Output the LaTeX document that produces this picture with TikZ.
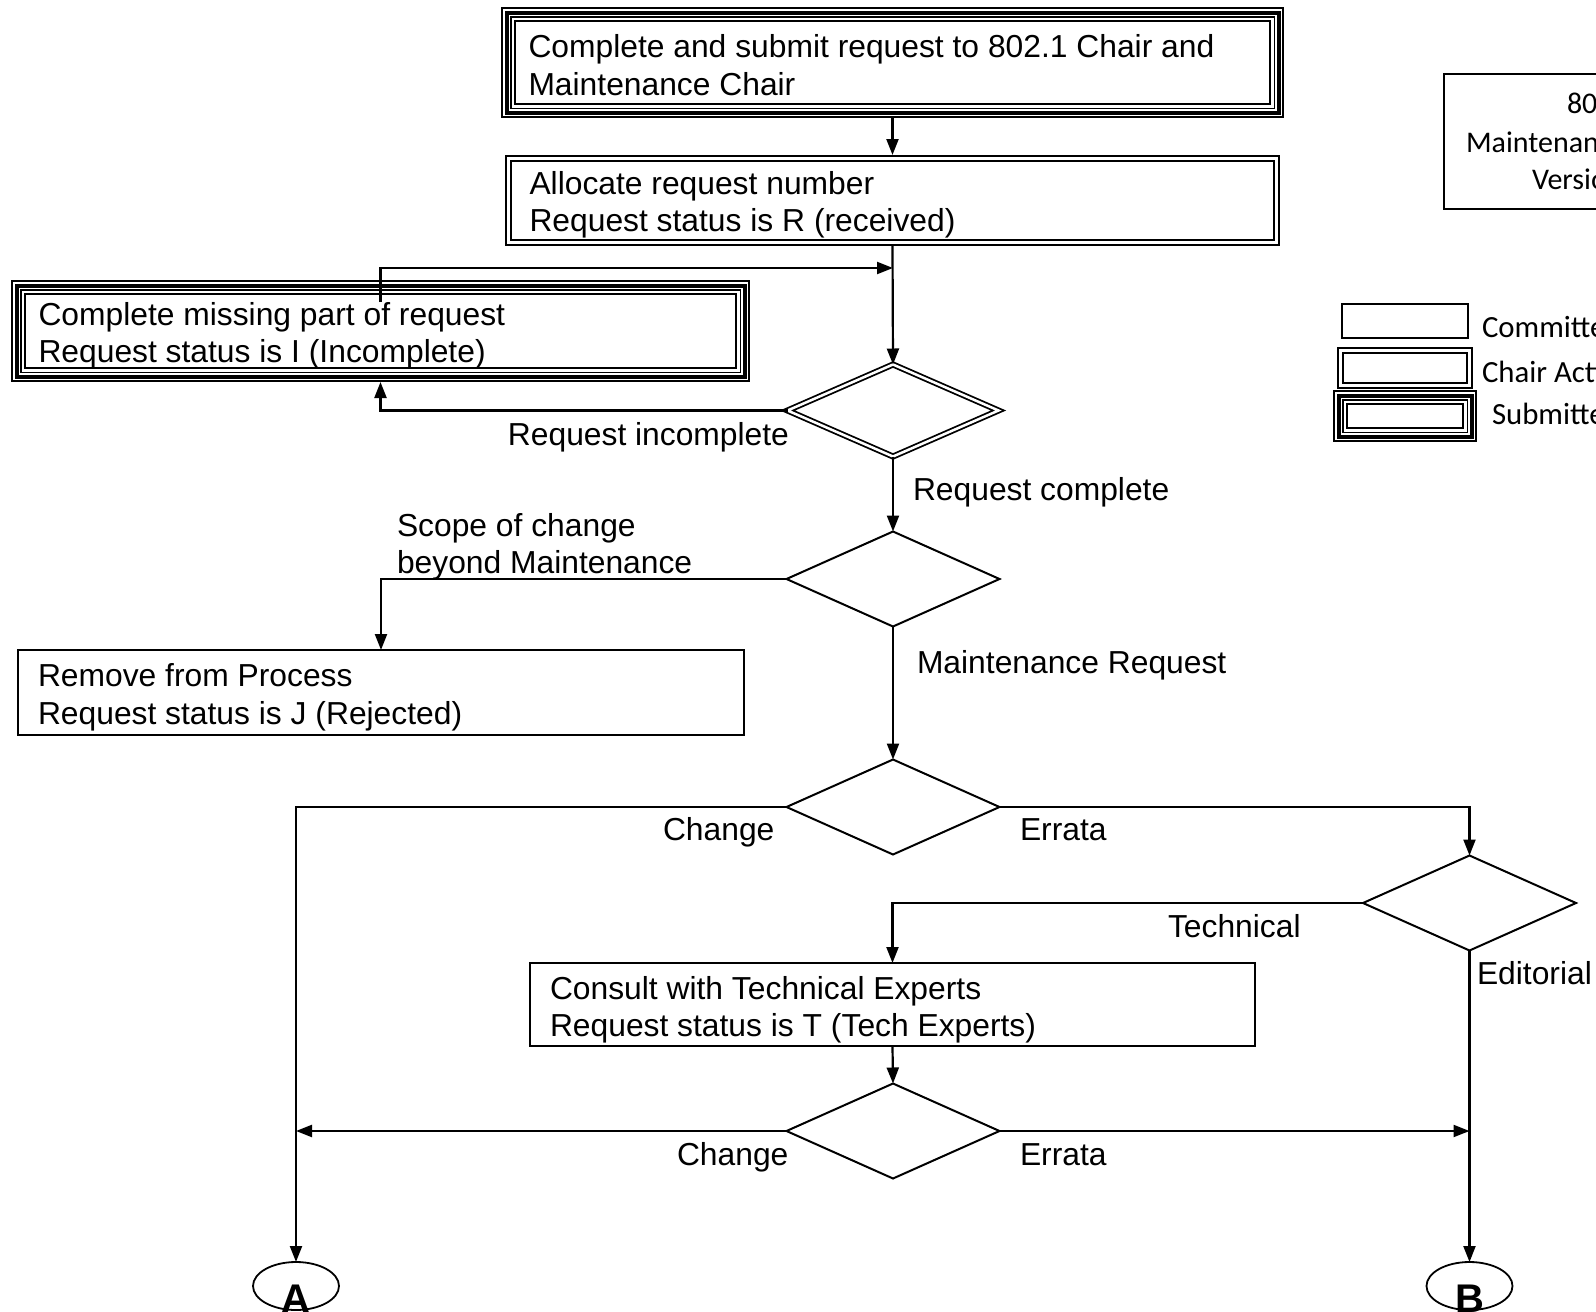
\documentclass[tikz,border=0pt]{standalone}
\usepackage{fontspec}
\setmainfont{Liberation Sans}
\newfontfamily\calib{Carlito}
\usetikzlibrary{arrows.meta,shapes.geometric,calc}
\newcommand\myinset[2]{\draw[line width=#2] ([shift={(#1,#1)}]path picture bounding box.north west) rectangle ([shift={(-#1,-#1)}]path picture bounding box.south east);}
\tikzset{
  txt/.style={font=\fontsize{31.8}{37}\selectfont, inner sep=0pt, outer sep=0pt},
  cal/.style={font=\calib\fontsize{30}{38}\selectfont, inner sep=0pt, outer sep=0pt},
  lcal/.style={font=\calib\fontsize{30.8}{38}\selectfont, inner sep=0pt, outer sep=0pt},
  letter/.style={font=\bfseries\fontsize{40}{40}\selectfont, inner sep=0pt, outer sep=0pt},
  cbox/.style={rectangle, draw, line width=2pt, fill=white, inner sep=0pt, outer sep=0pt},
  chbox/.style={rectangle, fill=white, inner sep=0pt, outer sep=0pt,
    path picture={\myinset{1}{2pt}\myinset{6}{2pt}}},
  sbbox/.style={rectangle, fill=white, inner sep=0pt, outer sep=0pt,
    path picture={\myinset{1}{2pt}\myinset{5.5}{4pt}\myinset{9.75}{1.5pt}\myinset{14}{2pt}}},
  dia/.style={diamond, draw, line width=2pt, fill=white, inner sep=0pt, outer sep=0pt,
    minimum width=213pt, minimum height=95pt},
  ddia/.style={dia, double, double distance=2.5pt, line width=1.8pt,
    minimum width=211pt, minimum height=92pt},
  circ/.style={ellipse, draw, line width=1.8pt, minimum width=86pt, minimum height=48pt,
    inner sep=0pt, outer sep=0pt},
  ar/.style={line width=2.2pt, -{Triangle[length=16pt,width=12pt]}},
}
\begin{document}
\begin{tikzpicture}[x=1pt,y=-1pt]
\useasboundingbox (0,0) rectangle (1596,1312);
\clip (0,0) rectangle (1596,1312);
\fill[white] (0,0) rectangle (1596,1312);

% boxes
\node[sbbox, minimum width=783pt, minimum height=111pt] (top) at (892.5,62.5) {};
\node[txt, anchor=base west] (topa) at (528.5,57.5) {Complete and submit request to 802.1 Chair and};
\node[txt, anchor=base west] (topb) at (528.5,95) {Maintenance Chair};

\node[chbox, minimum width=775pt, minimum height=91pt] (alloc) at (892.5,200.5) {};
\node[txt, anchor=base west] (alloca) at (529.5,194.5) {Allocate request number};
\node[txt, anchor=base west] (allocb) at (529.5,231.5) {Request status is R (received)};

\node[sbbox, minimum width=739pt, minimum height=102pt] (miss) at (380.5,331) {};
\node[txt, anchor=base west] (missa) at (38.5,325.5) {Complete missing part of request};
\node[txt, anchor=base west] (missb) at (38.5,362) {Request status is I (Incomplete)};

\node[ddia] (d1) at (893,410.5) {};
\node[dia] (d2) at (893,579) {};

\node[cbox, minimum width=726pt, minimum height=85pt] (rem) at (381,692.5) {};
\node[txt, anchor=base west] (rema) at (38,686.5) {Remove from Process};
\node[txt, anchor=base west] (remb) at (38,724) {Request status is J (Rejected)};

\node[dia] (d3) at (893,807) {};
\node[dia] (d4) at (1469.5,903) {};

\node[cbox, minimum width=725pt, minimum height=83pt] (cons) at (892.5,1004.5) {};
\node[txt, anchor=base west] (consa) at (550,999) {Consult with Technical Experts};
\node[txt, anchor=base west] (consb) at (550,1036.5) {Request status is T (Tech Experts)};

\node[dia] (d5) at (893,1131) {};

\node[circ] (A) at (296,1286) {};
\node[letter, anchor=base] (Atxt) at (296,1312.5) {A};
\node[circ] (B) at (1469.5,1286) {};
\node[letter, anchor=base] (Btxt) at (1469.5,1312.5) {B};

% title box and legend
\node[rectangle, draw, line width=2pt, minimum width=220pt, minimum height=135pt,
  anchor=north west, inner sep=0pt, outer sep=0pt] (title) at (1444,74) {};
\node[cal, anchor=base west] (tia) at (1567,113) {802.1};
\node[cal, anchor=base west] (tib) at (1466,152) {Maintenance};
\node[cal, anchor=base west] (tic) at (1532,189) {Version};

\node[cbox, minimum width=126pt, minimum height=34pt] (lg1) at (1405,321) {};
\node[chbox, minimum width=136pt, minimum height=42pt] (lg2) at (1405,368) {};
\node[sbbox, minimum width=144pt, minimum height=52pt] (lg3) at (1405,416) {};
\node[lcal, anchor=base west] (lgt1) at (1482,337) {Committee};
\node[lcal, anchor=base west] (lgt2) at (1482,382) {Chair Action};
\node[lcal, anchor=base west] (lgt3) at (1492,424) {Submitter};

% connectors
\coordinate (join) at (893,268);
\coordinate (loopstart) at (380.5,302);
\draw[ar] (top.south) -- (alloc.north);
\draw[ar] (alloc.south) -- (d1.north);
\draw[ar] (loopstart) |- (join);
\draw[ar] (d1.west) -| (miss.south);
\draw[ar] (d1.south) -- (d2.north);
\draw[ar] (d2.west) -| (rem.north);
\draw[ar] (d2.south) -- (d3.north);
\draw[ar] (d3.west) -| (A.north);
\draw[ar] (d3.east) -| (d4.north);
\draw[ar] (d4.west) -| (cons.north);
\draw[ar] (d4.south) -- (B.north);
\draw[ar] (cons.south) -- (d5.north);
\draw[ar] (d5.west) -- (d5.west -| A.north);
\draw[ar] (d5.east) -- (d5.east -| B.north);

% labels
\node[txt, anchor=base east] (lincomp) at (789,445.5) {Request incomplete};
\node[txt, anchor=base west] (lcomp) at (913,500) {Request complete};
\node[txt, anchor=base west] (lscopea) at (397,536) {Scope of change};
\node[txt, anchor=base west] (lscopeb) at (397,573.5) {beyond Maintenance};
\node[txt, anchor=base west] (lmaint) at (917,673.5) {Maintenance Request};
\node[txt, anchor=base west] (lch1) at (663,840.5) {Change};
\node[txt, anchor=base west] (ler1) at (1020,840.5) {Errata};
\node[txt, anchor=base west] (ltech) at (1168,937) {Technical};
\node[txt, anchor=base west] (ledit) at (1477,984.5) {Editorial};
\node[txt, anchor=base west] (lch2) at (677,1165) {Change};
\node[txt, anchor=base west] (ler2) at (1020,1165) {Errata};
\end{tikzpicture}
\end{document}
